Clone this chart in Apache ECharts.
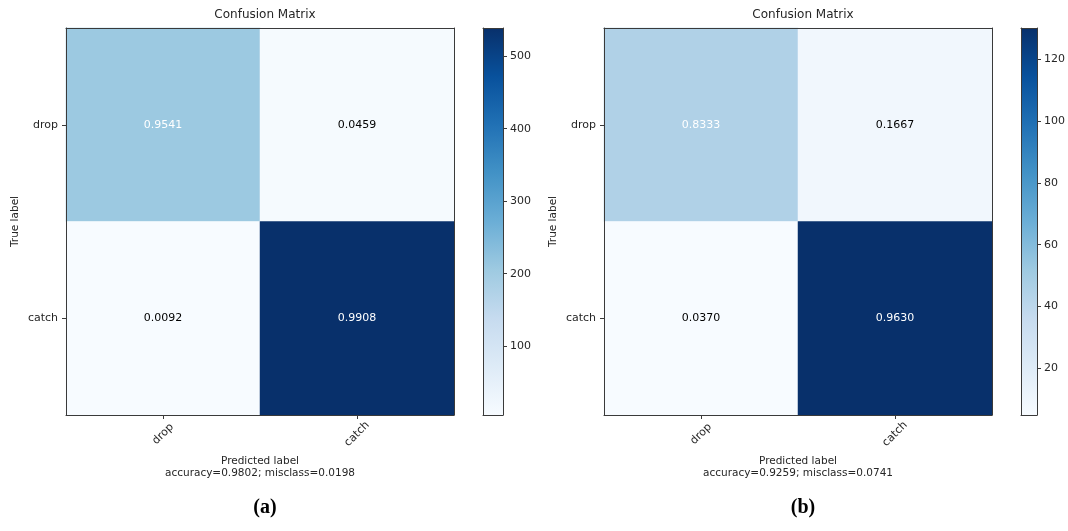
<!DOCTYPE html>
<html>
<head>
<meta charset="utf-8">
<script src="https://cdn.jsdelivr.net/npm/echarts@6/dist/echarts.min.js"></script>
<style>html,body{margin:0;padding:0;background:#fff}#c{width:1068px;height:531px}</style>
</head>
<body>
<div id="c"></div>
<script>
// ---- data ----
const classes = ['drop', 'catch'];
const countsA = [[208, 10], [5, 539]];
const normA = [['0.9541', '0.0459'], ['0.0092', '0.9908']];
const countsB = [[45, 9], [5, 130]];
const normB = [['0.8333', '0.1667'], ['0.0370', '0.9630']];
const rangeA = [5, 539];
const rangeB = [5, 130];
const ticksA = [100, 200, 300, 400, 500];
const ticksB = [20, 40, 60, 80, 100, 120];
const accTextA = 'accuracy=0.9802; misclass=0.0198';
const accTextB = 'accuracy=0.9259; misclass=0.0741';
const panelTitles = ['Confusion Matrix', 'Confusion Matrix'];
const captions = ['(a)', '(b)'];
const bluesCmap = ['#f7fbff', '#deebf7', '#c6dbef', '#9ecae1', '#6baed6', '#4292c6', '#2171b5', '#08519c', '#08306b'];

const FONT = 'DejaVu Sans';
const TXT = '#262626';
const LINE = '#3a3a3a';

function heatData(counts, norm) {
  const out = [];
  for (let i = 0; i < counts.length; i++) {
    for (let j = 0; j < counts[i].length; j++) {
      const v = parseFloat(norm[i][j]);
      out.push({
        value: [j, i, counts[i][j], norm[i][j]],
        label: { color: v > 0.5 ? '#ffffff' : '#000000' }
      });
    }
  }
  return out;
}

// vertical gradient (bottom = low, top = high) from the colormap stops
function cmapGradient(stops) {
  const n = stops.length - 1;
  return new echarts.graphic.LinearGradient(0, 1, 0, 0,
    stops.map((c, i) => ({ offset: i / n, color: c })));
}

const panels = [
  { gl: 66, cb: 483, counts: countsA, norm: normA, range: rangeA, ticks: ticksA, acc: accTextA },
  { gl: 604, cb: 1021, counts: countsB, norm: normB, range: rangeB, ticks: ticksB, acc: accTextB }
];
const GT = 28, GH = 387, GW = 388, CBW = 20;

const option = {
  backgroundColor: '#ffffff',
  animation: false,
  title: [],
  grid: [],
  xAxis: [],
  yAxis: [],
  visualMap: [],
  series: []
};

function frameAxis(kind, gi, pos, data) {
  const a = {
    type: kind === 'cat' ? 'category' : 'value', gridIndex: gi, position: pos, z: 10,
    axisLine: { show: true, onZero: false, lineStyle: { color: LINE, width: 1 } },
    axisTick: { show: false }, axisLabel: { show: false }, splitLine: { show: false }
  };
  if (data) a.data = data;
  return a;
}

panels.forEach((p, k) => {
  const cx = p.gl + GW / 2;
  option.title.push({
    text: panelTitles[k], left: cx, top: 4, textAlign: 'center',
    textStyle: { fontFamily: FONT, fontSize: 12, fontWeight: 'normal', color: TXT }
  });
  option.title.push({
    text: captions[k], left: cx, top: 493, textAlign: 'center',
    textStyle: { fontFamily: 'Liberation Serif', fontSize: 20, fontWeight: 'bold', color: '#000' }
  });
  option.grid.push({ left: p.gl, top: GT, width: GW, height: GH, show: false, containLabel: false });
  option.grid.push({ left: p.cb, top: GT, width: CBW, height: GH, show: false, containLabel: false });
  const gi = k * 2;

  option.xAxis.push({
    type: 'category', gridIndex: gi, data: classes, z: 10,
    axisLine: { show: true, lineStyle: { color: LINE } },
    axisTick: { show: true, alignWithLabel: true, length: 4, lineStyle: { color: LINE } },
    axisLabel: { rotate: 45, align: 'center', verticalAlign: 'middle', margin: 19, fontFamily: FONT, fontSize: 11, color: TXT },
    splitLine: { show: false },
    name: 'Predicted label\n' + p.acc, nameLocation: 'middle', nameGap: 39,
    nameTextStyle: { fontFamily: FONT, fontSize: 10.5, color: TXT, lineHeight: 12, align: 'center' }
  });
  const hx = option.xAxis.length - 1;
  option.xAxis.push(frameAxis('cat', gi, 'top', classes));
  option.yAxis.push({
    type: 'category', gridIndex: gi, data: classes, inverse: true, z: 10,
    axisLine: { show: true, lineStyle: { color: LINE } },
    axisTick: { show: true, alignWithLabel: true, length: 4, lineStyle: { color: LINE } },
    axisLabel: { margin: 8, fontFamily: FONT, fontSize: 11, color: TXT },
    splitLine: { show: false },
    name: 'True label', nameLocation: 'middle', nameGap: 45, nameRotate: 90,
    nameTextStyle: { fontFamily: FONT, fontSize: 10.5, color: TXT }
  });
  const hy = option.yAxis.length - 1;
  option.yAxis.push(frameAxis('cat', gi, 'right', classes));

  // colorbar axes
  option.xAxis.push({
    type: 'category', gridIndex: gi + 1, data: [''], position: 'bottom', z: 10,
    axisLine: { show: true, lineStyle: { color: LINE } },
    axisTick: { show: false }, axisLabel: { show: false }, splitLine: { show: false }
  });
  const cbx = option.xAxis.length - 1;
  option.xAxis.push(frameAxis('cat', gi + 1, 'top', ['']));
  option.yAxis.push({
    type: 'value', gridIndex: gi + 1, position: 'right', min: p.range[0], max: p.range[1], z: 10,
    axisLine: { show: true, lineStyle: { color: LINE } },
    axisTick: { show: true, length: 4, inside: false, customValues: p.ticks, lineStyle: { color: LINE } },
    axisLabel: { margin: 7, customValues: p.ticks, fontFamily: FONT, fontSize: 11, color: TXT },
    splitLine: { show: false }
  });
  const cby = option.yAxis.length - 1;
  option.yAxis.push(Object.assign(frameAxis('val', gi + 1, 'left'), { min: p.range[0], max: p.range[1] }));

  option.visualMap.push({
    type: 'continuous', seriesIndex: option.series.length, dimension: 2,
    min: p.range[0], max: p.range[1],
    inRange: { color: bluesCmap }, show: false
  });
  option.series.push({
    type: 'heatmap', xAxisIndex: hx, yAxisIndex: hy,
    data: heatData(p.counts, p.norm),
    label: { show: true, fontFamily: FONT, fontSize: 11, formatter: (d) => d.value[3] },
    itemStyle: { borderWidth: 0 },
    emphasis: { disabled: true }
  });
  // colorbar: transparent base up to min, then gradient segment from min to max
  option.series.push({
    type: 'bar', xAxisIndex: cbx, yAxisIndex: cby, stack: 'cb' + k,
    data: [p.range[0]], barWidth: '100%', silent: true,
    itemStyle: { color: 'rgba(0,0,0,0)' }
  });
  option.series.push({
    type: 'bar', xAxisIndex: cbx, yAxisIndex: cby, stack: 'cb' + k,
    data: [p.range[1] - p.range[0]], barWidth: '100%', silent: true,
    itemStyle: { color: cmapGradient(bluesCmap) }
  });
});

const chart = echarts.init(document.getElementById('c'), null, { renderer: 'canvas' });
chart.setOption(option);
</script>
</body>
</html>
